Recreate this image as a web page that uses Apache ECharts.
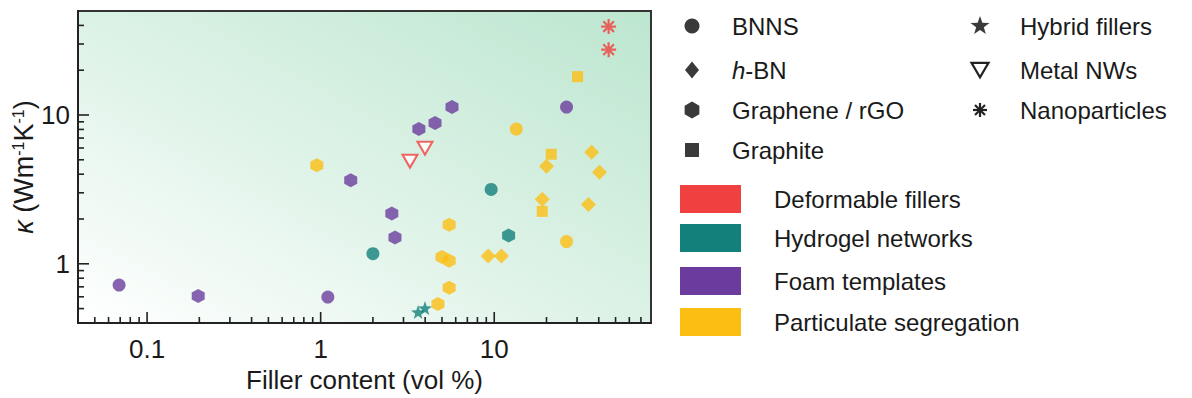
<!DOCTYPE html>
<html>
<head>
<meta charset="utf-8">
<script src="https://cdn.jsdelivr.net/npm/echarts@6/dist/echarts.min.js"></script>
<style>
html,body{margin:0;padding:0;background:#fff;}
#main{width:1192px;height:398px;}
</style>
</head>
<body>
<div id="main"></div>
<script>
// kappa vs filler content, colour = assembly strategy, shape = filler type
var xMin = 0.04, xMax = 80, yMin = 0.4, yMax = 50;
var xTicks = [0.1, 1, 10];
var xMinorTicks = [0.05, 0.06, 0.07, 0.08, 0.09, 0.2, 0.3, 0.4, 0.5, 0.6, 0.7, 0.8, 0.9,
	2, 3, 4, 5, 6, 7, 8, 9, 20, 30, 40, 50, 60, 70];
var yTicks = [1, 10];
var yMinorTicks = [0.5, 0.6, 0.7, 0.8, 0.9, 2, 3, 4, 5, 6, 7, 8, 9, 20, 30, 40];

// Deformable fillers (red)
var deformNano = [[45.6, 39.3], [45.6, 27.5]];
var deformMetalNW = [[3.99, 5.98], [3.27, 4.89]];
// Hydrogel networks (teal)
var hydroBNNS = [[9.6, 3.16], [2.0, 1.17]];
var hydroGraphene = [[12.1, 1.55]];
var hydroHybrid = [[3.64, 0.474], [3.99, 0.504]];
// Foam templates (purple)
var foamBNNS = [[26.1, 11.3], [0.069, 0.72], [1.1, 0.598]];
var foamGraphene = [[5.71, 11.3], [4.56, 8.83], [3.68, 8.04], [1.49, 3.64], [2.57, 2.18], [2.68, 1.5], [0.197, 0.608]];
// Particulate segregation (yellow)
var partBNNS = [[13.4, 8.04], [26.1, 1.41]];
var partHBN = [[20.0, 4.52], [36.4, 5.62], [40.4, 4.12], [18.9, 2.71], [34.9, 2.5], [9.23, 1.13], [11.0, 1.13]];
var partGraphene = [[0.95, 4.59], [5.5, 1.83], [5.0, 1.11], [5.5, 1.05], [5.5, 0.69], [4.74, 0.537]];
var partGraphite = [[30.2, 18.1], [21.3, 5.45], [18.9, 2.25]];

var groupNames = ['Deformable fillers', 'Hydrogel networks', 'Foam templates', 'Particulate segregation'];
var groupColors = ['#f0403f', '#13807b', '#6b3c9e', '#fdbe14'];
var shapeNames = ['BNNS', 'h-BN', 'Graphene / rGO', 'Graphite', 'Hybrid fillers', 'Metal NWs', 'Nanoparticles'];

var FONT = '"Liberation Sans", Arial, sans-serif';
var TXT = '#1a1a1a';

// outline points in a -10..10 box
var POLY = {
	hexagon: [[0, -10], [8.66, -5], [8.66, 5], [0, 10], [-8.66, 5], [-8.66, -5]],
	star: [[0, -10], [2.35, -3.24], [9.51, -3.09], [3.8, 1.24], [5.88, 8.09], [0, 4], [-5.88, 8.09], [-3.8, 1.24], [-9.51, -3.09], [-2.35, -3.24]],
	triangle: [[-10, -8.5], [10, -8.5], [0, 8.5]]
};
function polyPath(p) {
	return 'path://' + p.map(function (q, i) { return (i ? 'L' : 'M') + q[0] + ',' + q[1]; }).join('') + 'Z';
}
var SYM = {
	circle: { symbol: 'circle', size: 13 },
	diamond: { symbol: 'diamond', size: 15 },
	hexagon: { symbol: polyPath(POLY.hexagon), size: [13, 14] },
	square: { symbol: 'rect', size: 11 },
	star: { symbol: polyPath(POLY.star), size: 14 },
	triangle: { symbol: polyPath(POLY.triangle), size: [15, 13] },
	asterisk: { symbol: 'path://M0,-10L0,10M-10,0L10,0M-7.07,-7.07L7.07,7.07M-7.07,7.07L7.07,-7.07', size: 15 }
};
var shapeKeys = ['circle', 'diamond', 'hexagon', 'square', 'star', 'triangle', 'asterisk'];

function pts(name, data, shape, color) {
	var s = SYM[shape];
	var style = { color: color };
	if (shape == 'triangle') {
		style = { color: '#fff', borderColor: color, borderWidth: 2 };
	} else if (shape == 'asterisk') {
		style = { color: color, borderColor: color, borderWidth: 2.2 };
	}
	return {
		type: 'scatter',
		name: name,
		data: data,
		symbol: s.symbol,
		symbolSize: s.size,
		itemStyle: style,
		z: 5
	};
}

function ticks(data, axis, len) {
	return {
		type: 'custom',
		silent: true,
		clip: false,
		z: 3,
		data: data.map(function (v) { return axis == 'x' ? [v, yMin] : [xMin, v]; }),
		renderItem: function (params, api) {
			var p = api.coord([api.value(0), api.value(1)]);
			var shape = axis == 'x'
				? { x1: p[0], y1: p[1], x2: p[0], y2: p[1] - len }
				: { x1: p[0], y1: p[1], x2: p[0] + len, y2: p[1] };
			return { type: 'line', shape: shape, style: { stroke: '#222', lineWidth: 1.6 } };
		}
	};
}

function decadeLabel(v) {
	var l = Math.log(v) / Math.LN10;
	if (Math.abs(l - Math.round(l)) > 0.01) return '';
	return String(+Math.pow(10, Math.round(l)).toFixed(6));
}

// legend drawn as graphics
var legendEls = [];
var shapePos = [[692, 26], [692, 70], [692, 110], [692, 150], [980, 26], [980, 70], [980, 110]];
for (var i = 0; i < shapeNames.length; i++) {
	var key = shapeKeys[i];
	var cx = shapePos[i][0], cy = shapePos[i][1];
	var fill = { fill: '#3a3a3a' };
	if (key == 'circle') {
		legendEls.push({ type: 'circle', shape: { cx: cx, cy: cy, r: 7.5 }, style: fill });
	} else if (key == 'square') {
		legendEls.push({ type: 'rect', shape: { x: cx - 7, y: cy - 7, width: 14, height: 14 }, style: fill });
	} else if (key == 'diamond') {
		legendEls.push({ type: 'polygon', shape: { points: [[cx, cy - 8.5], [cx + 7, cy], [cx, cy + 8.5], [cx - 7, cy]] }, style: fill });
	} else if (key == 'asterisk') {
		var arms = [[0, -7, 0, 7], [-7, 0, 7, 0], [-5, -5, 5, 5], [-5, 5, 5, -5]];
		arms.forEach(function (a) {
			legendEls.push({ type: 'line', shape: { x1: cx + a[0], y1: cy + a[1], x2: cx + a[2], y2: cy + a[3] }, style: { stroke: '#222', lineWidth: 2.2 } });
		});
	} else {
		var sc = key == 'triangle' ? 0.85 : (key == 'star' ? 1.0 : 0.85);
		var style = key == 'triangle' ? { fill: '#fff', stroke: '#222', lineWidth: 2.2 } : fill;
		legendEls.push({
			type: 'polygon',
			shape: { points: POLY[key].map(function (q) { return [cx + q[0] * sc, cy + q[1] * sc]; }) },
			style: style
		});
	}
	var label = shapeNames[i] == 'h-BN' ? '{i|h}-BN' : shapeNames[i];
	legendEls.push({
		type: 'text',
		x: cx + 40, y: cy,
		style: {
			text: label, font: '24px ' + FONT, fill: TXT, verticalAlign: 'middle',
			rich: { i: { fontStyle: 'italic', fontSize: 24, fontFamily: FONT, fill: TXT } }
		}
	});
}
var groupY = [199, 238, 281, 322];
for (var g = 0; g < groupNames.length; g++) {
	legendEls.push({
		type: 'rect',
		shape: { x: 680, y: groupY[g] - 14, width: 61, height: 28 },
		style: { fill: groupColors[g] }
	});
	legendEls.push({
		type: 'text',
		x: 774, y: groupY[g],
		style: { text: groupNames[g], font: '24px ' + FONT, fill: TXT, verticalAlign: 'middle' }
	});
}

var myChart = echarts.init(document.getElementById('main'), null, { renderer: 'svg' });
var option = {
	animation: false,
	backgroundColor: '#fff',
	textStyle: { fontFamily: FONT },
	grid: {
		left: 78, top: 11, width: 573, height: 312,
		outerBoundsMode: 'none',
		show: true,
		borderColor: '#333',
		borderWidth: 2,
		backgroundColor: {
			type: 'linear', x: 0, y: 1, x2: 1, y2: 0,
			colorStops: [
				{ offset: 0, color: '#ffffff' },
				{ offset: 0.5, color: '#dcf2e6' },
				{ offset: 1, color: '#bce6cf' }
			]
		}
	},
	xAxis: {
		type: 'log',
		min: xMin, max: xMax,
		name: 'Filler content (vol %)',
		nameLocation: 'middle',
		nameGap: 41,
		nameTextStyle: { fontSize: 26, color: TXT, fontFamily: FONT },
		axisLine: { lineStyle: { color: '#222', width: 2 } },
		axisTick: { show: false },
		minorTick: { show: false },
		splitLine: { show: false },
		axisLabel: { fontSize: 26, color: TXT, margin: 13, formatter: decadeLabel, showMinLabel: false, showMaxLabel: false }
	},
	yAxis: {
		type: 'log',
		min: yMin, max: yMax,
		name: '{k|κ} (Wm{s|-1}K{s|-1})',
		nameLocation: 'middle',
		nameGap: 35,
		nameRotate: 90,
		nameTextStyle: {
			fontSize: 27, color: TXT, fontFamily: FONT,
			rich: {
				k: { fontStyle: 'italic', fontSize: 27, fontFamily: FONT, color: TXT },
				s: { fontSize: 16, fontFamily: FONT, color: TXT, verticalAlign: 'top', padding: [0, 0, 10, 0] }
			}
		},
		axisLine: { lineStyle: { color: '#222', width: 2 } },
		axisTick: { show: false },
		minorTick: { show: false },
		splitLine: { show: false },
		axisLabel: { fontSize: 26, color: TXT, margin: 8, formatter: decadeLabel, showMinLabel: false, showMaxLabel: false }
	},
	graphic: legendEls,
	series: [
		ticks(xTicks, 'x', 11),
		ticks(xMinorTicks, 'x', 6),
		ticks(yTicks, 'y', 11),
		ticks(yMinorTicks, 'y', 6),
		pts('Deformable nanoparticles', deformNano, 'asterisk', groupColors[0]),
		pts('Deformable metal NWs', deformMetalNW, 'triangle', groupColors[0]),
		pts('Hydrogel BNNS', hydroBNNS, 'circle', groupColors[1]),
		pts('Hydrogel graphene', hydroGraphene, 'hexagon', groupColors[1]),
		pts('Hydrogel hybrid', hydroHybrid, 'star', groupColors[1]),
		pts('Foam BNNS', foamBNNS, 'circle', groupColors[2]),
		pts('Foam graphene', foamGraphene, 'hexagon', groupColors[2]),
		pts('Particulate BNNS', partBNNS, 'circle', groupColors[3]),
		pts('Particulate h-BN', partHBN, 'diamond', groupColors[3]),
		pts('Particulate graphene', partGraphene, 'hexagon', groupColors[3]),
		pts('Particulate graphite', partGraphite, 'square', groupColors[3])
	]
};
myChart.setOption(option);
</script>
</body>
</html>
